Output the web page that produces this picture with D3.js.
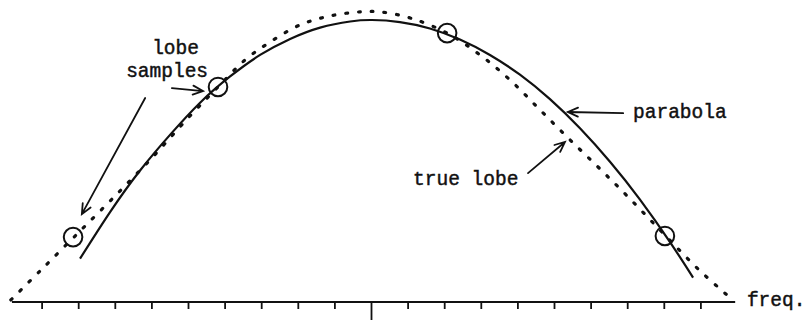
<!DOCTYPE html>
<html>
<head>
<meta charset="utf-8">
<script src="https://cdn.jsdelivr.net/npm/d3@7/dist/d3.min.js"></script>
<style>
  html, body { margin: 0; padding: 0; background: #fff; }
  svg { display: block; }
  text { font-family: "Liberation Mono", "DejaVu Sans Mono", monospace; font-size: 19.5px; fill: #111; stroke: #111; stroke-width: 0.45px; }
</style>
</head>
<body>
<script>
// Main lobe of a spectral peak (dotted), four samples of it (circles)
// and the parabola laid through the samples (solid).

// true lobe: frequency (bins from the centre) and relative amplitude
const lobeFreq = [-9.84, -9.04, -8.14, -7.13, -6.04, -4.95, -4.18, -3.44, -2.76, -1.94, -1.12, -0.30,
                  0.25, 1.07, 2.08, 2.98, 3.80, 4.62, 5.44, 6.26, 7.08, 8.03, 8.99, 9.92];
const lobeAmp  = [0.007, 0.107, 0.220, 0.347, 0.488, 0.639, 0.739, 0.832, 0.893, 0.952, 0.983, 0.997,
                  0.997, 0.976, 0.924, 0.849, 0.763, 0.660, 0.557, 0.457, 0.354, 0.230, 0.107, 0.003];

// fitted parabola
const parabolaFreq = [-7.95, -7.13, -6.31, -5.48, -4.67, -3.85, -3.03, -2.21, -1.39, -0.57, 0.03,
                      0.79, 1.61, 2.43, 3.25, 4.07, 4.89, 5.71, 6.53, 7.35, 8.17, 8.80];
const parabolaAmp  = [0.149, 0.309, 0.452, 0.576, 0.685, 0.775, 0.849, 0.904, 0.943, 0.964, 0.969,
                      0.962, 0.940, 0.902, 0.849, 0.781, 0.697, 0.597, 0.482, 0.352, 0.206, 0.084];

// lobe samples
const sampleFreq = [-8.14, -4.18, 2.08, 8.03];
const sampleAmp  = [0.223, 0.739, 0.924, 0.227];

// frequency axis
const axisExtent = [-9.81, 9.95];
const tickValues = [-9, -8, -7, -6, -5, -4, -3, -2, -1, 0, 1, 2, 3, 4, 5, 6, 7, 8, 9];
const axisLabel = "freq.";

// annotation labels (anchor in data units) and arrows (from -> to)
const labelText = ["lobe", "samples", "parabola", "true lobe"];
const labelFreq = [-5.98, -6.69, 7.16, 1.15];
const labelAmp  = [0.852, 0.773, 0.632, 0.402];
const arrowFrom = [[-5.44, 0.735], [-6.17, 0.701], [6.89, 0.649], [4.29, 0.443]];
const arrowTo   = [[-4.59, 0.725], [-7.90, 0.302], [5.38, 0.653], [5.30, 0.550]];

const W = 806, H = 320;
const ink = "#111";

const svg = d3.select("body").append("svg")
  .attr("width", W).attr("height", H)
  .attr("viewBox", `0 0 ${W} ${H}`);

const x = d3.scaleLinear().domain([-10, 10]).range([5, 737]);
const y = d3.scaleLinear().domain([0, 1]).range([302, 11]);

// axis baseline and ticks
svg.append("line")
  .attr("x1", x(axisExtent[0])).attr("x2", x(axisExtent[1]))
  .attr("y1", y(0)).attr("y2", y(0))
  .attr("stroke", ink).attr("stroke-width", 2.2);

const axis = d3.axisBottom(x).tickValues(tickValues).tickSize(7).tickSizeOuter(0).tickFormat("");
const gAxis = svg.append("g").attr("transform", `translate(0,${y(0)})`).call(axis);
gAxis.select(".domain").remove();
gAxis.selectAll(".tick line").attr("stroke", ink).attr("stroke-width", 1.8);
gAxis.selectAll(".tick").filter(d => d === 0).select("line").attr("y2", 20);

svg.append("text")
  .attr("x", x(10.27)).attr("y", y(-0.014))
  .text(axisLabel);

// true lobe, dotted
const lobe = d3.zip(lobeFreq, lobeAmp);
svg.append("path")
  .datum(lobe)
  .attr("d", d3.line().x(d => x(d[0])).y(d => y(d[1])).curve(d3.curveCatmullRom.alpha(0.5)))
  .attr("fill", "none").attr("stroke", ink)
  .attr("stroke-width", 3.2).attr("stroke-linecap", "round")
  .attr("stroke-dasharray", "1.8 11");

// parabola, solid
const parabola = d3.zip(parabolaFreq, parabolaAmp);
svg.append("path")
  .datum(parabola)
  .attr("d", d3.line().x(d => x(d[0])).y(d => y(d[1])).curve(d3.curveNatural))
  .attr("fill", "none").attr("stroke", ink).attr("stroke-width", 2.2);

// samples
svg.selectAll("circle.sample")
  .data(d3.zip(sampleFreq, sampleAmp))
  .join("circle")
  .attr("class", "sample")
  .attr("cx", d => x(d[0])).attr("cy", d => y(d[1]))
  .attr("r", 9.3)
  .attr("fill", "none").attr("stroke", ink).attr("stroke-width", 2);

// labels
svg.selectAll("text.label")
  .data(labelText)
  .join("text")
  .attr("class", "label")
  .attr("x", (d, i) => x(labelFreq[i]))
  .attr("y", (d, i) => y(labelAmp[i]))
  .text(d => d);

// arrows with open heads
const arrows = svg.append("g").attr("stroke", ink).attr("fill", "none")
  .attr("stroke-width", 1.8).attr("stroke-linecap", "round");
arrowFrom.forEach((f, i) => {
  const t = arrowTo[i];
  const x0 = x(f[0]), y0 = y(f[1]), x1 = x(t[0]), y1 = y(t[1]);
  const ang = Math.atan2(y1 - y0, x1 - x0);
  const len = 11, spread = 0.42;
  const b1 = [x1 - len * Math.cos(ang - spread), y1 - len * Math.sin(ang - spread)];
  const b2 = [x1 - len * Math.cos(ang + spread), y1 - len * Math.sin(ang + spread)];
  arrows.append("path")
    .attr("d", `M${x0},${y0}L${x1},${y1}M${b1[0]},${b1[1]}L${x1},${y1}L${b2[0]},${b2[1]}`);
});
</script>
</body>
</html>
